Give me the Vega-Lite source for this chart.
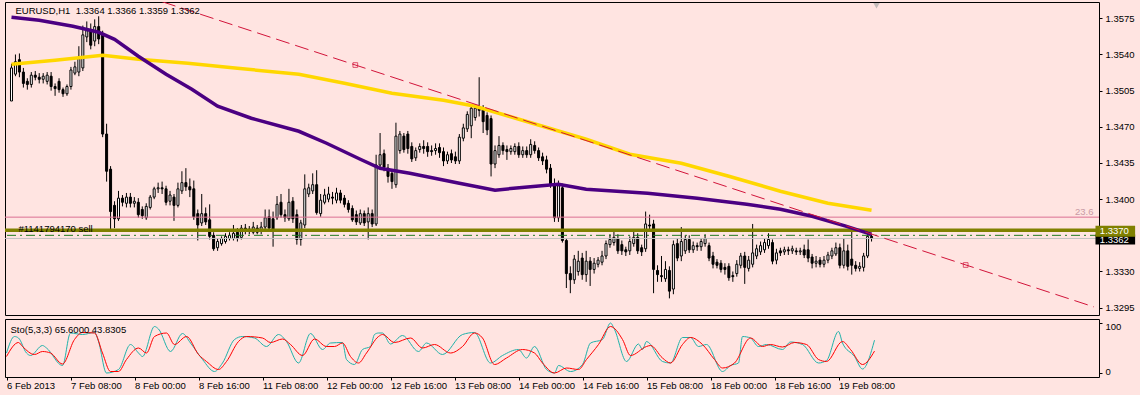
{
"$schema":"https://vega.github.io/schema/vega-lite/v6.json",
"background":"#FFE4E1",
"padding":{"left":4,"top":1,"right":0,"bottom":0},
"spacing":2,
"config":{"view":{"stroke":"#000000","strokeWidth":1,"fill":"#FFE4E1"},"font":"Liberation Sans"},
"datasets":{
"candles":[
{"i":0,"o":1.3495,"h":1.3531,"l":1.3495,"c":1.3527},{"i":1,"o":1.3521,"h":1.3540,"l":1.3519,"c":1.3533},{"i":2,"o":1.3535,"h":1.3541,"l":1.3518,"c":1.3523},{"i":3,"o":1.3523,"h":1.3527,"l":1.3508,"c":1.3512},{"i":4,"o":1.3514,"h":1.3517,"l":1.3506,"c":1.3511},{"i":5,"o":1.3511,"h":1.3523,"l":1.3508,"c":1.3520},{"i":6,"o":1.3520,"h":1.3524,"l":1.3515,"c":1.3518},{"i":7,"o":1.3518,"h":1.3522,"l":1.3512,"c":1.3516},{"i":8,"o":1.3516,"h":1.3522,"l":1.3512,"c":1.3519},{"i":9,"o":1.3514,"h":1.3523,"l":1.3511,"c":1.3520},
{"i":10,"o":1.3519,"h":1.3523,"l":1.3505,"c":1.3509},{"i":11,"o":1.3509,"h":1.3512,"l":1.3500,"c":1.3507},{"i":12,"o":1.3514,"h":1.3517,"l":1.3503,"c":1.3506},{"i":13,"o":1.3506,"h":1.3508,"l":1.3499,"c":1.3502},{"i":14,"o":1.3502,"h":1.3511,"l":1.3500,"c":1.3509},{"i":15,"o":1.3509,"h":1.3528,"l":1.3506,"c":1.3525},{"i":16,"o":1.3522,"h":1.3533,"l":1.3520,"c":1.3528},{"i":17,"o":1.3523,"h":1.3548,"l":1.3519,"c":1.3536},{"i":18,"o":1.3527,"h":1.3568,"l":1.3524,"c":1.3559},{"i":19,"o":1.3557,"h":1.3572,"l":1.3552,"c":1.3563},
{"i":20,"o":1.3563,"h":1.3570,"l":1.3545,"c":1.3549},{"i":21,"o":1.3553,"h":1.3574,"l":1.3548,"c":1.3567},{"i":22,"o":1.3567,"h":1.3577,"l":1.3550,"c":1.3555},{"i":23,"o":1.3559,"h":1.3563,"l":1.3460,"c":1.3463},{"i":24,"o":1.3463,"h":1.3473,"l":1.3417,"c":1.3427},{"i":25,"o":1.3429,"h":1.3432,"l":1.3369,"c":1.3388},{"i":26,"o":1.3394,"h":1.3398,"l":1.3372,"c":1.3381},{"i":27,"o":1.3381,"h":1.3408,"l":1.3379,"c":1.3401},{"i":28,"o":1.3401,"h":1.3404,"l":1.3393,"c":1.3397},{"i":29,"o":1.3396,"h":1.3406,"l":1.3392,"c":1.3402},
{"i":30,"o":1.3402,"h":1.3406,"l":1.3392,"c":1.3396},{"i":31,"o":1.3396,"h":1.3402,"l":1.3392,"c":1.3398},{"i":32,"o":1.3397,"h":1.3401,"l":1.3382,"c":1.3385},{"i":33,"o":1.3390,"h":1.3393,"l":1.3381,"c":1.3384},{"i":34,"o":1.3382,"h":1.3396,"l":1.3380,"c":1.3393},{"i":35,"o":1.3392,"h":1.3404,"l":1.3390,"c":1.3402},{"i":36,"o":1.3402,"h":1.3412,"l":1.3400,"c":1.3410},{"i":37,"o":1.3410,"h":1.3416,"l":1.3406,"c":1.3411},{"i":38,"o":1.3411,"h":1.3417,"l":1.3405,"c":1.3410},{"i":39,"o":1.3410,"h":1.3413,"l":1.3394,"c":1.3397},
{"i":40,"o":1.3398,"h":1.3408,"l":1.3394,"c":1.3404},{"i":41,"o":1.3402,"h":1.3405,"l":1.3379,"c":1.3394},{"i":42,"o":1.3394,"h":1.3416,"l":1.3392,"c":1.3410},{"i":43,"o":1.3408,"h":1.3427,"l":1.3405,"c":1.3416},{"i":44,"o":1.3416,"h":1.3430,"l":1.3408,"c":1.3412},{"i":45,"o":1.3412,"h":1.3420,"l":1.3402,"c":1.3409},{"i":46,"o":1.3410,"h":1.3418,"l":1.3380,"c":1.3383},{"i":47,"o":1.3386,"h":1.3390,"l":1.3360,"c":1.3375},{"i":48,"o":1.3377,"h":1.3405,"l":1.3374,"c":1.3386},{"i":49,"o":1.3386,"h":1.3392,"l":1.3375,"c":1.3378},
{"i":50,"o":1.3380,"h":1.3395,"l":1.3361,"c":1.3364},{"i":51,"o":1.3365,"h":1.3368,"l":1.3350,"c":1.3352},{"i":52,"o":1.3353,"h":1.3362,"l":1.3350,"c":1.3359},{"i":53,"o":1.3357,"h":1.3364,"l":1.3355,"c":1.3362},{"i":54,"o":1.3359,"h":1.3367,"l":1.3357,"c":1.3364},{"i":55,"o":1.3362,"h":1.3368,"l":1.3360,"c":1.3365},{"i":56,"o":1.3362,"h":1.3375,"l":1.3360,"c":1.3367},{"i":57,"o":1.3368,"h":1.3372,"l":1.3359,"c":1.3362},{"i":58,"o":1.3363,"h":1.3375,"l":1.3361,"c":1.3372},{"i":59,"o":1.3372,"h":1.3376,"l":1.3366,"c":1.3369},
{"i":60,"o":1.3369,"h":1.3374,"l":1.3366,"c":1.3371},{"i":61,"o":1.3368,"h":1.3378,"l":1.3366,"c":1.3373},{"i":62,"o":1.3372,"h":1.3375,"l":1.3366,"c":1.3368},{"i":63,"o":1.3369,"h":1.3378,"l":1.3366,"c":1.3373},{"i":64,"o":1.3373,"h":1.3390,"l":1.3371,"c":1.3382},{"i":65,"o":1.3383,"h":1.3390,"l":1.3369,"c":1.3372},{"i":66,"o":1.3381,"h":1.3388,"l":1.3354,"c":1.3369},{"i":67,"o":1.3382,"h":1.3403,"l":1.3380,"c":1.3395},{"i":68,"o":1.3397,"h":1.3405,"l":1.3382,"c":1.3385},{"i":69,"o":1.3385,"h":1.3390,"l":1.3378,"c":1.3382},
{"i":70,"o":1.3381,"h":1.3410,"l":1.3379,"c":1.3397},{"i":71,"o":1.3398,"h":1.3402,"l":1.3377,"c":1.3381},{"i":72,"o":1.3385,"h":1.3390,"l":1.3356,"c":1.3361},{"i":73,"o":1.3361,"h":1.3380,"l":1.3355,"c":1.3377},{"i":74,"o":1.3375,"h":1.3424,"l":1.3372,"c":1.3410},{"i":75,"o":1.3405,"h":1.3415,"l":1.3402,"c":1.3411},{"i":76,"o":1.3408,"h":1.3425,"l":1.3405,"c":1.3414},{"i":77,"o":1.3414,"h":1.3428,"l":1.3385,"c":1.3387},{"i":78,"o":1.3386,"h":1.3405,"l":1.3383,"c":1.3399},{"i":79,"o":1.3397,"h":1.3410,"l":1.3395,"c":1.3404},
{"i":80,"o":1.3400,"h":1.3412,"l":1.3397,"c":1.3405},{"i":81,"o":1.3402,"h":1.3407,"l":1.3395,"c":1.3401},{"i":82,"o":1.3399,"h":1.3411,"l":1.3396,"c":1.3406},{"i":83,"o":1.3406,"h":1.3409,"l":1.3396,"c":1.3399},{"i":84,"o":1.3401,"h":1.3404,"l":1.3392,"c":1.3395},{"i":85,"o":1.3396,"h":1.3399,"l":1.3387,"c":1.3390},{"i":86,"o":1.3391,"h":1.3394,"l":1.3378,"c":1.3380},{"i":87,"o":1.3385,"h":1.3389,"l":1.3375,"c":1.3378},{"i":88,"o":1.3377,"h":1.3390,"l":1.3375,"c":1.3386},{"i":89,"o":1.3386,"h":1.3389,"l":1.3374,"c":1.3377},
{"i":90,"o":1.3378,"h":1.3392,"l":1.3361,"c":1.3386},{"i":91,"o":1.3386,"h":1.3390,"l":1.3373,"c":1.3376},{"i":92,"o":1.3376,"h":1.3443,"l":1.3374,"c":1.3433},{"i":93,"o":1.3433,"h":1.3464,"l":1.3430,"c":1.3443},{"i":94,"o":1.3444,"h":1.3448,"l":1.3427,"c":1.3431},{"i":95,"o":1.3430,"h":1.3434,"l":1.3416,"c":1.3422},{"i":96,"o":1.3425,"h":1.3428,"l":1.3410,"c":1.3417},{"i":97,"o":1.3414,"h":1.3474,"l":1.3411,"c":1.3461},{"i":98,"o":1.3447,"h":1.3466,"l":1.3444,"c":1.3463},{"i":99,"o":1.3461,"h":1.3464,"l":1.3445,"c":1.3448},
{"i":100,"o":1.3463,"h":1.3466,"l":1.3444,"c":1.3449},{"i":101,"o":1.3451,"h":1.3455,"l":1.3436,"c":1.3439},{"i":102,"o":1.3440,"h":1.3450,"l":1.3437,"c":1.3447},{"i":103,"o":1.3448,"h":1.3454,"l":1.3445,"c":1.3451},{"i":104,"o":1.3451,"h":1.3457,"l":1.3444,"c":1.3449},{"i":105,"o":1.3451,"h":1.3455,"l":1.3441,"c":1.3446},{"i":106,"o":1.3447,"h":1.3452,"l":1.3442,"c":1.3446},{"i":107,"o":1.3447,"h":1.3454,"l":1.3443,"c":1.3449},{"i":108,"o":1.3450,"h":1.3454,"l":1.3440,"c":1.3445},{"i":109,"o":1.3446,"h":1.3450,"l":1.3432,"c":1.3437},
{"i":110,"o":1.3437,"h":1.3446,"l":1.3434,"c":1.3443},{"i":111,"o":1.3444,"h":1.3448,"l":1.3435,"c":1.3438},{"i":112,"o":1.3441,"h":1.3446,"l":1.3434,"c":1.3437},{"i":113,"o":1.3437,"h":1.3463,"l":1.3434,"c":1.3460},{"i":114,"o":1.3459,"h":1.3473,"l":1.3456,"c":1.3469},{"i":115,"o":1.3468,"h":1.3485,"l":1.3465,"c":1.3482},{"i":116,"o":1.3471,"h":1.3491,"l":1.3459,"c":1.3488},{"i":117,"o":1.3479,"h":1.3492,"l":1.3476,"c":1.3488},{"i":118,"o":1.3488,"h":1.3518,"l":1.3480,"c":1.3486},{"i":119,"o":1.3487,"h":1.3491,"l":1.3464,"c":1.3475},
{"i":120,"o":1.3481,"h":1.3484,"l":1.3462,"c":1.3467},{"i":121,"o":1.3478,"h":1.3481,"l":1.3422,"c":1.3434},{"i":122,"o":1.3434,"h":1.3452,"l":1.3430,"c":1.3447},{"i":123,"o":1.3443,"h":1.3461,"l":1.3440,"c":1.3452},{"i":124,"o":1.3452,"h":1.3455,"l":1.3443,"c":1.3447},{"i":125,"o":1.3448,"h":1.3452,"l":1.3438,"c":1.3446},{"i":126,"o":1.3446,"h":1.3452,"l":1.3443,"c":1.3449},{"i":127,"o":1.3446,"h":1.3454,"l":1.3443,"c":1.3451},{"i":128,"o":1.3451,"h":1.3455,"l":1.3440,"c":1.3443},{"i":129,"o":1.3443,"h":1.3451,"l":1.3440,"c":1.3447},
{"i":130,"o":1.3447,"h":1.3451,"l":1.3440,"c":1.3443},{"i":131,"o":1.3443,"h":1.3458,"l":1.3440,"c":1.3453},{"i":132,"o":1.3452,"h":1.3456,"l":1.3444,"c":1.3447},{"i":133,"o":1.3447,"h":1.3450,"l":1.3437,"c":1.3440},{"i":134,"o":1.3441,"h":1.3445,"l":1.3433,"c":1.3437},{"i":135,"o":1.3438,"h":1.3442,"l":1.3425,"c":1.3429},{"i":136,"o":1.3430,"h":1.3434,"l":1.3411,"c":1.3414},{"i":137,"o":1.3415,"h":1.3420,"l":1.3378,"c":1.3382},{"i":138,"o":1.3382,"h":1.3418,"l":1.3378,"c":1.3413},{"i":139,"o":1.3411,"h":1.3415,"l":1.3358,"c":1.3360},
{"i":140,"o":1.3360,"h":1.3362,"l":1.3314,"c":1.3328},{"i":141,"o":1.3328,"h":1.3335,"l":1.3309,"c":1.3322},{"i":142,"o":1.3322,"h":1.3346,"l":1.3318,"c":1.3342},{"i":143,"o":1.3330,"h":1.3350,"l":1.3326,"c":1.3340},{"i":144,"o":1.3343,"h":1.3348,"l":1.3322,"c":1.3327},{"i":145,"o":1.3327,"h":1.3350,"l":1.3320,"c":1.3340},{"i":146,"o":1.3340,"h":1.3344,"l":1.3316,"c":1.3332},{"i":147,"o":1.3332,"h":1.3343,"l":1.3328,"c":1.3338},{"i":148,"o":1.3337,"h":1.3344,"l":1.3334,"c":1.3341},{"i":149,"o":1.3339,"h":1.3350,"l":1.3336,"c":1.3345},
{"i":150,"o":1.3345,"h":1.3360,"l":1.3342,"c":1.3357},{"i":151,"o":1.3356,"h":1.3366,"l":1.3353,"c":1.3361},{"i":152,"o":1.3358,"h":1.3370,"l":1.3355,"c":1.3363},{"i":153,"o":1.3362,"h":1.3366,"l":1.3347,"c":1.3350},{"i":154,"o":1.3356,"h":1.3360,"l":1.3346,"c":1.3350},{"i":155,"o":1.3351,"h":1.3354,"l":1.3345,"c":1.3349},{"i":156,"o":1.3350,"h":1.3364,"l":1.3346,"c":1.3359},{"i":157,"o":1.3357,"h":1.3370,"l":1.3354,"c":1.3363},{"i":158,"o":1.3363,"h":1.3367,"l":1.3347,"c":1.3350},{"i":159,"o":1.3353,"h":1.3356,"l":1.3345,"c":1.3349},
{"i":160,"o":1.3352,"h":1.3388,"l":1.3349,"c":1.3376},{"i":161,"o":1.3375,"h":1.3385,"l":1.3370,"c":1.3374},{"i":162,"o":1.3376,"h":1.3380,"l":1.3309,"c":1.3332},{"i":163,"o":1.3331,"h":1.3336,"l":1.3320,"c":1.3327},{"i":164,"o":1.3326,"h":1.3345,"l":1.3320,"c":1.3325},{"i":165,"o":1.3323,"h":1.3340,"l":1.3320,"c":1.3332},{"i":166,"o":1.3331,"h":1.3335,"l":1.3304,"c":1.3311},{"i":167,"o":1.3313,"h":1.3360,"l":1.3308,"c":1.3356},{"i":168,"o":1.3357,"h":1.3362,"l":1.3340,"c":1.3343},{"i":169,"o":1.3345,"h":1.3373,"l":1.3340,"c":1.3359},
{"i":170,"o":1.3350,"h":1.3365,"l":1.3347,"c":1.3361},{"i":171,"o":1.3361,"h":1.3365,"l":1.3348,"c":1.3351},{"i":172,"o":1.3351,"h":1.3359,"l":1.3348,"c":1.3355},{"i":173,"o":1.3355,"h":1.3358,"l":1.3350,"c":1.3354},{"i":174,"o":1.3354,"h":1.3362,"l":1.3350,"c":1.3359},{"i":175,"o":1.3357,"h":1.3366,"l":1.3354,"c":1.3362},{"i":176,"o":1.3355,"h":1.3358,"l":1.3340,"c":1.3343},{"i":177,"o":1.3345,"h":1.3349,"l":1.3333,"c":1.3337},{"i":178,"o":1.3339,"h":1.3342,"l":1.3333,"c":1.3336},{"i":179,"o":1.3338,"h":1.3341,"l":1.3329,"c":1.3332},
{"i":180,"o":1.3334,"h":1.3338,"l":1.3327,"c":1.3332},{"i":181,"o":1.3335,"h":1.3338,"l":1.3321,"c":1.3324},{"i":182,"o":1.3326,"h":1.3330,"l":1.3320,"c":1.3325},{"i":183,"o":1.3328,"h":1.3341,"l":1.3325,"c":1.3337},{"i":184,"o":1.3336,"h":1.3348,"l":1.3333,"c":1.3345},{"i":185,"o":1.3345,"h":1.3349,"l":1.3318,"c":1.3334},{"i":186,"o":1.3333,"h":1.3345,"l":1.3330,"c":1.3341},{"i":187,"o":1.3337,"h":1.3376,"l":1.3334,"c":1.3348},{"i":188,"o":1.3345,"h":1.3356,"l":1.3342,"c":1.3352},{"i":189,"o":1.3349,"h":1.3359,"l":1.3346,"c":1.3355},
{"i":190,"o":1.3351,"h":1.3362,"l":1.3348,"c":1.3358},{"i":191,"o":1.3355,"h":1.3367,"l":1.3352,"c":1.3361},{"i":192,"o":1.3358,"h":1.3361,"l":1.3337,"c":1.3340},{"i":193,"o":1.3341,"h":1.3352,"l":1.3337,"c":1.3348},{"i":194,"o":1.3350,"h":1.3353,"l":1.3345,"c":1.3348},{"i":195,"o":1.3349,"h":1.3354,"l":1.3346,"c":1.3351},{"i":196,"o":1.3351,"h":1.3354,"l":1.3346,"c":1.3350},{"i":197,"o":1.3350,"h":1.3355,"l":1.3347,"c":1.3352},{"i":198,"o":1.3350,"h":1.3353,"l":1.3346,"c":1.3349},{"i":199,"o":1.3349,"h":1.3353,"l":1.3346,"c":1.3350},
{"i":200,"o":1.3351,"h":1.3356,"l":1.3343,"c":1.3346},{"i":201,"o":1.3351,"h":1.3361,"l":1.3339,"c":1.3343},{"i":202,"o":1.3344,"h":1.3347,"l":1.3333,"c":1.3338},{"i":203,"o":1.3338,"h":1.3345,"l":1.3334,"c":1.3340},{"i":204,"o":1.3341,"h":1.3344,"l":1.3334,"c":1.3337},{"i":205,"o":1.3337,"h":1.3345,"l":1.3334,"c":1.3341},{"i":206,"o":1.3341,"h":1.3349,"l":1.3338,"c":1.3346},{"i":207,"o":1.3345,"h":1.3353,"l":1.3342,"c":1.3350},{"i":208,"o":1.3347,"h":1.3358,"l":1.3345,"c":1.3353},{"i":209,"o":1.3353,"h":1.3357,"l":1.3333,"c":1.3336},
{"i":210,"o":1.3336,"h":1.3362,"l":1.3333,"c":1.3350},{"i":211,"o":1.3350,"h":1.3356,"l":1.3331,"c":1.3335},{"i":212,"o":1.3342,"h":1.3370,"l":1.3327,"c":1.3336},{"i":213,"o":1.3336,"h":1.3340,"l":1.3330,"c":1.3333},{"i":214,"o":1.3333,"h":1.3339,"l":1.3330,"c":1.3335},{"i":215,"o":1.3334,"h":1.3348,"l":1.3330,"c":1.3345},{"i":216,"o":1.3345,"h":1.3368,"l":1.3343,"c":1.3364},{"i":217,"o":1.3364,"h":1.3366,"l":1.3359,"c":1.3362}
],
"yellow":[{"i":0,"p":1.35305},{"i":11,"p":1.35344},{"i":23,"p":1.35392},{"i":32,"p":1.35354},{"i":44.5,"p":1.35315},{"i":57,"p":1.35267},{"i":72.5,"p":1.35208},{"i":84,"p":1.35121},{"i":96,"p":1.35025},{"i":109,"p":1.34957},{"i":117,"p":1.34899},{"i":125.5,"p":1.34802},{"i":134,"p":1.34706},{"i":145,"p":1.34580},{"i":156,"p":1.34435},{"i":169,"p":1.34348},{"i":181,"p":1.34222},{"i":194,"p":1.34077},{"i":206,"p":1.33961},{"i":217,"p":1.33893}],
"purple":[{"i":0,"p":1.3576},{"i":7,"p":1.35731},{"i":15.5,"p":1.35673},{"i":22,"p":1.35615},{"i":26,"p":1.35547},{"i":32,"p":1.35383},{"i":39,"p":1.35208},{"i":45.5,"p":1.35063},{"i":52,"p":1.34899},{"i":60.5,"p":1.34783},{"i":72.5,"p":1.34657},{"i":79.5,"p":1.34541},{"i":88,"p":1.34386},{"i":93,"p":1.34299},{"i":100.5,"p":1.34251},{"i":113,"p":1.34154},{"i":122,"p":1.34087},{"i":129.5,"p":1.34116},{"i":138,"p":1.34145},{"i":145,"p":1.34096},{"i":160.5,"p":1.34058},{"i":173,"p":1.34009},{"i":185.5,"p":1.33951},{"i":194,"p":1.33903},{"i":202,"p":1.33835},{"i":210.5,"p":1.33739},{"i":216,"p":1.33671},{"i":217,"p":1.3366}],
"stoK":[{"i":0,"v":40},{"i":2,"v":73},{"i":3,"v":70},{"i":5,"v":40},{"i":6,"v":35},{"i":9,"v":55},{"i":10,"v":50},{"i":14,"v":15},{"i":16,"v":80},{"i":19,"v":77},{"i":22,"v":81},{"i":23,"v":63},{"i":25,"v":0},{"i":28,"v":7},{"i":31,"v":57},{"i":33,"v":40},{"i":34,"v":33},{"i":37,"v":93},{"i":38,"v":88},{"i":41,"v":43},{"i":44,"v":79},{"i":46,"v":60},{"i":49,"v":27},{"i":52,"v":3},{"i":54,"v":20},{"i":57,"v":67},{"i":59,"v":73},{"i":62,"v":70},{"i":65,"v":53},{"i":68,"v":77},{"i":70,"v":63},{"i":73,"v":20},{"i":76,"v":79},{"i":79,"v":47},{"i":81,"v":60},{"i":84,"v":61},{"i":85,"v":27},{"i":87,"v":17},{"i":89,"v":47},{"i":91,"v":53},{"i":92,"v":77},{"i":93,"v":80},{"i":94,"v":80},{"i":96,"v":58},{"i":99,"v":75},{"i":103,"v":43},{"i":105,"v":60},{"i":109,"v":37},{"i":114,"v":77},{"i":117,"v":81},{"i":121,"v":20},{"i":124,"v":35},{"i":128,"v":47},{"i":130,"v":30},{"i":132,"v":53},{"i":135,"v":7},{"i":137,"v":0},{"i":138,"v":15},{"i":141,"v":3},{"i":144,"v":17},{"i":146,"v":60},{"i":149,"v":67},{"i":151,"v":100},{"i":152,"v":87},{"i":155,"v":23},{"i":158,"v":58},{"i":159,"v":47},{"i":160,"v":63},{"i":164,"v":23},{"i":166,"v":20},{"i":169,"v":71},{"i":171,"v":71},{"i":173,"v":53},{"i":175,"v":57},{"i":179,"v":3},{"i":181,"v":15},{"i":183,"v":20},{"i":184,"v":73},{"i":186,"v":70},{"i":188,"v":53},{"i":190,"v":57},{"i":194,"v":47},{"i":196,"v":62},{"i":199,"v":57},{"i":203,"v":20},{"i":205,"v":25},{"i":208,"v":83},{"i":209,"v":60},{"i":212,"v":33},{"i":214,"v":8},{"i":217,"v":65.6}],
"stoD":[{"i":0,"v":33},{"i":3,"v":61},{"i":4,"v":53},{"i":7,"v":37},{"i":9,"v":43},{"i":11,"v":40},{"i":14,"v":18},{"i":17,"v":67},{"i":19,"v":81},{"i":22,"v":80},{"i":24,"v":40},{"i":26,"v":3},{"i":28,"v":3},{"i":30,"v":27},{"i":33,"v":50},{"i":35,"v":40},{"i":37,"v":73},{"i":40,"v":80},{"i":42,"v":57},{"i":45,"v":73},{"i":48,"v":37},{"i":50,"v":23},{"i":53,"v":7},{"i":55,"v":23},{"i":58,"v":63},{"i":60,"v":73},{"i":64,"v":70},{"i":66,"v":61},{"i":69,"v":68},{"i":71,"v":57},{"i":74,"v":35},{"i":77,"v":68},{"i":80,"v":53},{"i":82,"v":53},{"i":84,"v":60},{"i":86,"v":33},{"i":88,"v":20},{"i":90,"v":40},{"i":93,"v":73},{"i":94,"v":77},{"i":97,"v":61},{"i":101,"v":70},{"i":104,"v":50},{"i":107,"v":57},{"i":111,"v":40},{"i":114,"v":53},{"i":117,"v":80},{"i":119,"v":70},{"i":122,"v":17},{"i":125,"v":30},{"i":129,"v":47},{"i":132,"v":40},{"i":134,"v":20},{"i":137,"v":0},{"i":140,"v":10},{"i":143,"v":7},{"i":145,"v":27},{"i":148,"v":57},{"i":151,"v":93},{"i":154,"v":67},{"i":156,"v":35},{"i":160,"v":53},{"i":161,"v":55},{"i":164,"v":30},{"i":166,"v":20},{"i":169,"v":57},{"i":171,"v":71},{"i":174,"v":57},{"i":177,"v":27},{"i":179,"v":10},{"i":182,"v":20},{"i":186,"v":70},{"i":189,"v":53},{"i":191,"v":57},{"i":194,"v":52},{"i":197,"v":61},{"i":200,"v":57},{"i":203,"v":27},{"i":205,"v":23},{"i":209,"v":63},{"i":211,"v":47},{"i":214,"v":17},{"i":217,"v":43.8}]
},
"vconcat":[
{"width":1094,"height":313,
"encoding":{"x":{"field":"i","type":"quantitative","scale":{"domain":[-0.375,273.125],"nice":false,"zero":false},"axis":null}},
"layer":[
{"data":{"name":"candles"},"mark":{"type":"rule","color":"#000000","strokeWidth":1,"clip":true},
"encoding":{
"y":{"field":"l","type":"quantitative","scale":{"domain":[1.32879,1.35908],"nice":false,"zero":false},
"axis":{"orient":"right","values":[1.3295,1.333,1.34,1.3435,1.347,1.3505,1.354,1.3575],"format":".4f","title":null,"grid":false,"domain":false,"ticks":true,"tickSize":3,"tickColor":"#000000","labelPadding":3,"labelColor":"#000000","labelFont":"Liberation Sans","labelFontSize":9.5}},
"y2":{"field":"h"}}},
{"data":{"name":"candles"},"mark":{"type":"bar","size":2,"stroke":"#000000","strokeWidth":1,"clip":true},
"encoding":{
"y":{"field":"o","type":"quantitative"},
"y2":{"field":"c"},
"fill":{"condition":{"test":"datum.c >= datum.o","value":"#FFFFFF"},"value":"#000000"}}},
{"data":{"values":[{"p":1.33826}]},"mark":{"type":"rule","color":"#DB7093","strokeWidth":1,"clip":true},
"encoding":{"x":null,"y":{"field":"p","type":"quantitative"}}},
{"data":{"values":[{"p":1.3362}]},"mark":{"type":"rule","color":"#C0C0C0","strokeWidth":1,"clip":true},
"encoding":{"x":null,"y":{"field":"p","type":"quantitative"}}},
{"data":{"values":[{"p":1.3365}]},"mark":{"type":"rule","color":"#1E7A1E","strokeWidth":1,"strokeDash":[9,4,2,4],"clip":true},
"encoding":{"x":null,"y":{"field":"p","type":"quantitative"}}},
{"data":{"values":[{"p":1.3370}]},"mark":{"type":"rule","color":"#808000","strokeWidth":3.5,"clip":true},
"encoding":{"x":null,"y":{"field":"p","type":"quantitative"}}},
{"data":{"name":"yellow"},"mark":{"type":"line","color":"#FFD700","strokeWidth":3.5,"clip":true},
"encoding":{"y":{"field":"p","type":"quantitative"}}},
{"data":{"name":"purple"},"mark":{"type":"line","color":"#4B0082","strokeWidth":3.5,"clip":true},
"encoding":{"y":{"field":"p","type":"quantitative"}}},
{"data":{"values":[{"i":38,"p":1.35911},{"i":273.125,"p":1.32957}]},"mark":{"type":"line","color":"#D2143A","strokeWidth":1,"strokeDash":[14,6],"clip":true},
"encoding":{"y":{"field":"p","type":"quantitative"}}},
{"data":{"values":[{"i":86.75,"p":1.35298},{"i":240.75,"p":1.33363}]},"mark":{"type":"point","shape":"square","size":22,"filled":false,"stroke":"#D2143A","strokeWidth":1,"clip":true},
"encoding":{"y":{"field":"p","type":"quantitative"}}},
{"data":{"values":[{"i":218.25,"p":1.35872}]},"mark":{"type":"point","shape":"triangle-down","size":40,"filled":true,"color":"#A8A8A8","clip":true},
"encoding":{"y":{"field":"p","type":"quantitative"}}},
{"data":{"values":[{"i":1,"p":1.35825,"t":"EURUSD,H1\u00a0 1.3364 1.3366 1.3359 1.3362"},{"i":1.75,"p":1.33707,"t":"#1141794170 sell"}]},
"mark":{"type":"text","align":"left","baseline":"middle","fontSize":9.5,"color":"#000000","clip":true},
"encoding":{"y":{"field":"p","type":"quantitative"},"text":{"field":"t"}}},
{"data":{"values":[{"i":273,"p":1.33878,"t":"23.6"}]},
"mark":{"type":"text","align":"right","baseline":"middle","fontSize":9.5,"color":"#C89AA4","clip":true},
"encoding":{"y":{"field":"p","type":"quantitative"},"text":{"field":"t"}}},
{"data":{"values":[{"a":273.5,"b":283.5,"p1":1.33659,"p2":1.33562}]},"mark":{"type":"rect","color":"#000000"},
"encoding":{"x":{"field":"a","type":"quantitative"},"x2":{"field":"b"},"y":{"field":"p1","type":"quantitative"},"y2":{"field":"p2"}}},
{"data":{"values":[{"a":273.5,"b":283.5,"p1":1.33743,"p2":1.33637}]},"mark":{"type":"rect","color":"#808000"},
"encoding":{"x":{"field":"a","type":"quantitative"},"x2":{"field":"b"},"y":{"field":"p1","type":"quantitative"},"y2":{"field":"p2"}}},
{"data":{"values":[{"i":274.6,"p":1.33605,"t":"1.3362"},{"i":274.6,"p":1.3369,"t":"1.3370"}]},
"mark":{"type":"text","align":"left","baseline":"middle","fontSize":9.5,"color":"#FFFFFF"},
"encoding":{"y":{"field":"p","type":"quantitative"},"text":{"field":"t"}}}
]},
{"width":1094,"height":58,
"encoding":{"x":{"field":"i","type":"quantitative","scale":{"domain":[-0.375,273.125],"nice":false,"zero":false},
"axis":{"orient":"bottom","values":[0,16,32,48,64,80,96,112,128,144,160,176,192,208],
"labelExpr":"['6 Feb 2013','7 Feb 08:00','8 Feb 00:00','8 Feb 16:00','11 Feb 08:00','12 Feb 00:00','12 Feb 16:00','13 Feb 08:00','14 Feb 00:00','14 Feb 16:00','15 Feb 08:00','18 Feb 00:00','18 Feb 16:00','19 Feb 08:00'][round(datum.value/16)]",
"title":null,"grid":false,"domain":false,"ticks":true,"tickSize":3,"tickColor":"#000000","labelColor":"#000000","labelFont":"Liberation Sans","labelFontSize":9.5,
"labelAlign":"left","labelPadding":0,"labelFlush":false,"labelOverlap":false,"labelBound":false,"labelBaseline":"top"}},
"y":{"field":"v","type":"quantitative","scale":{"domain":[-8,108],"nice":false,"zero":false},
"axis":{"orient":"right","values":[0,100],"title":null,"grid":false,"domain":false,"ticks":true,"tickSize":3,"tickColor":"#000000","labelColor":"#000000","labelFont":"Liberation Sans","labelFontSize":9.5,"labelPadding":3,
"labelOffset":{"condition":{"test":"datum.value == 100","value":3},"value":-2}}}},
"layer":[
{"data":{"name":"stoK"},"mark":{"type":"line","color":"#20B2AA","strokeWidth":1,"interpolate":"monotone","clip":true}},
{"data":{"name":"stoD"},"mark":{"type":"line","color":"#FF0000","strokeWidth":1,"interpolate":"monotone","clip":true}},
{"data":{"values":[{"i":1,"v":87,"t":"Sto(5,3,3) 65.6000 43.8305"}]},
"mark":{"type":"text","align":"left","baseline":"middle","fontSize":9.5,"color":"#000000","clip":true},
"encoding":{"text":{"field":"t"}}},
{"data":{"values":[{"i":-0.375,"i2":284,"v":-47.5}]},"mark":{"type":"rule","color":"#000000","strokeWidth":1},
"encoding":{"x2":{"field":"i2"}}}
]}
]
}
